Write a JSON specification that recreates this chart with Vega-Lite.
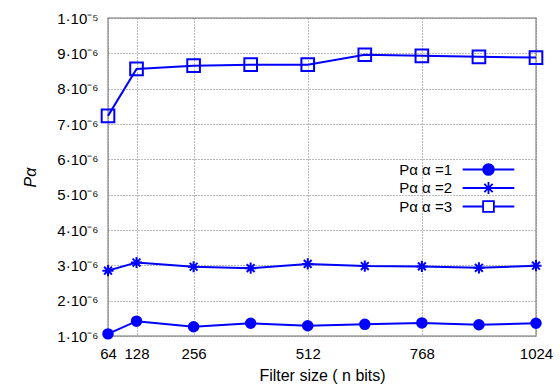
{
  "$schema": "https://vega.github.io/schema/vega-lite/v6.json",
  "width": 428,
  "height": 318,
  "autosize": "none",
  "padding": {"left": 108, "top": 18, "right": 24, "bottom": 51},
  "background": "white",
  "config": {
    "font": "Liberation Sans",
    "view": {"stroke": "#a0a0a0", "strokeWidth": 1.5},
    "axis": {
      "domain": false,
      "ticks": false,
      "grid": true,
      "gridColor": "#777777",
      "gridDash": [1, 2],
      "gridWidth": 1,
      "labelFont": "Liberation Sans",
      "labelFontSize": 15,
      "labelColor": "#000000",
      "titleFont": "Liberation Sans",
      "titleFontSize": 16,
      "titleFontWeight": "normal",
      "titleColor": "#000000"
    },
    "legend": {"labelFont": "Liberation Sans", "labelFontSize": 15, "labelColor": "#000000"}
  },
  "data": {
    "values": [
      {"n": 64, "alpha": 1, "p": 1.06e-6},
      {"n": 128, "alpha": 1, "p": 1.42e-6},
      {"n": 256, "alpha": 1, "p": 1.26e-6},
      {"n": 384, "alpha": 1, "p": 1.36e-6},
      {"n": 512, "alpha": 1, "p": 1.29e-6},
      {"n": 640, "alpha": 1, "p": 1.33e-6},
      {"n": 768, "alpha": 1, "p": 1.37e-6},
      {"n": 896, "alpha": 1, "p": 1.32e-6},
      {"n": 1024, "alpha": 1, "p": 1.36e-6},
      {"n": 64, "alpha": 2, "p": 2.85e-6},
      {"n": 128, "alpha": 2, "p": 3.08e-6},
      {"n": 256, "alpha": 2, "p": 2.96e-6},
      {"n": 384, "alpha": 2, "p": 2.92e-6},
      {"n": 512, "alpha": 2, "p": 3.04e-6},
      {"n": 640, "alpha": 2, "p": 2.98e-6},
      {"n": 768, "alpha": 2, "p": 2.97e-6},
      {"n": 896, "alpha": 2, "p": 2.93e-6},
      {"n": 1024, "alpha": 2, "p": 2.99e-6},
      {"n": 64, "alpha": 3, "p": 7.23e-6},
      {"n": 128, "alpha": 3, "p": 8.56e-6},
      {"n": 256, "alpha": 3, "p": 8.65e-6},
      {"n": 384, "alpha": 3, "p": 8.68e-6},
      {"n": 512, "alpha": 3, "p": 8.68e-6},
      {"n": 640, "alpha": 3, "p": 8.96e-6},
      {"n": 768, "alpha": 3, "p": 8.93e-6},
      {"n": 896, "alpha": 3, "p": 8.9e-6},
      {"n": 1024, "alpha": 3, "p": 8.88e-6}
    ]
  },
  "encoding": {
    "x": {
      "field": "n",
      "type": "quantitative",
      "scale": {"domain": [64, 1024], "nice": false, "zero": false},
      "axis": {"values": [64, 128, 256, 512, 768, 1024], "format": "d", "title": "Filter size ( n bits)", "labelPadding": 10, "titlePadding": 6, "labelFlush": false}
    },
    "y": {
      "field": "p",
      "type": "quantitative",
      "scale": {"domain": [1e-6, 1e-5], "nice": false, "zero": false},
      "axis": {
        "values": [1e-6, 2e-6, 3e-6, 4e-6, 5e-6, 6e-6, 7e-6, 8e-6, 9e-6, 1e-5],
        "labelExpr": "round(datum.value*1e6) == 10 ? '1·10⁻⁵' : round(datum.value*1e6) + '·10⁻⁶'",
        "labelPadding": 10,
        "labelFlush": false,
        "title": "Pα",
        "titleFontStyle": "italic",
        "titlePadding": 18
      }
    }
  },
  "layer": [
    {
      "mark": {"type": "line", "color": "#0000ff", "strokeWidth": 2},
      "encoding": {"detail": {"field": "alpha", "type": "nominal"}}
    },
    {
      "mark": {"type": "point", "filled": false, "stroke": "#0000ff", "strokeWidth": 2, "opacity": 1},
      "encoding": {
        "shape": {
          "field": "alpha",
          "type": "nominal",
          "scale": {"domain": [1, 2, 3], "range": ["circle", "M-1,0L1,0M0,-1L0,1M-0.7,-0.7L0.7,0.7M-0.7,0.7L0.7,-0.7", "square"]},
          "legend": null
        },
        "size": {"field": "alpha", "type": "ordinal", "scale": {"domain": [1, 2, 3], "range": [90, 160, 100]}, "legend": null},
        "fill": {"condition": {"test": "datum.alpha == 1", "value": "#0000ff"}, "value": "transparent"}
      }
    },
    {
      "mark": {"type": "point", "filled": false, "stroke": "#0000ff", "strokeWidth": 1.8, "opacity": 0},
      "encoding": {
        "shape": {
          "field": "alpha",
          "type": "nominal",
          "scale": {"domain": [1, 2, 3], "range": [
            "M-4.3,0L4.3,0M0.9,0A0.9,0.9 0 1,1 -0.9,0A0.9,0.9 0 1,1 0.9,0M0.7,0A0.7,0.7 0 1,1 -0.7,0A0.7,0.7 0 1,1 0.7,0M0.5,0A0.5,0.5 0 1,1 -0.5,0A0.5,0.5 0 1,1 0.5,0M0.3,0A0.3,0.3 0 1,1 -0.3,0A0.3,0.3 0 1,1 0.3,0M0.12,0A0.12,0.12 0 1,1 -0.12,0A0.12,0.12 0 1,1 0.12,0",
            "M-4.3,0L4.3,0M0,-1L0,1M-0.7,-0.7L0.7,0.7M-0.7,0.7L0.7,-0.7",
            "M-4.3,0L-0.9,0M0.9,0L4.3,0M-0.9,-0.9L0.9,-0.9L0.9,0.9L-0.9,0.9Z"
          ]},
          "legend": {
            "title": null,
            "orient": "none",
            "legendX": 373,
            "legendY": 144,
            "symbolSize": 144,
            "symbolStrokeColor": "#0000ff",
            "symbolStrokeWidth": 1.8,
            "symbolOpacity": 1,
            "labelAlign": "right",
            "labelOffset": -44,
            "rowPadding": -1.5,
            "labelExpr": "'Pα α =' + datum.label",
            "encode": {
              "symbols": {
                "update": {
                  "stroke": {"value": "#0000ff"},
                  "strokeWidth": {"value": 1.8},
                  "opacity": {"value": 1}
                }
              }
            }
          }
        }
      }
    }
  ],
  "resolve": {"scale": {"shape": "independent"}}
}
